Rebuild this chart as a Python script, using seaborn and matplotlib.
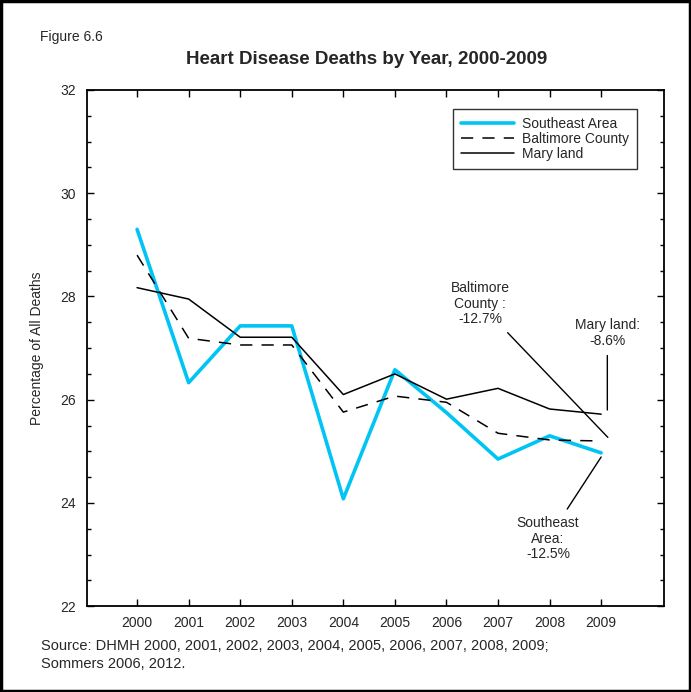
import numpy as np
import pandas as pd
import matplotlib
matplotlib.use("Agg")
import matplotlib.pyplot as plt
import seaborn as sns
from matplotlib.ticker import MultipleLocator
from matplotlib.patches import Rectangle

years = [2000, 2001, 2002, 2003, 2004, 2005, 2006, 2007, 2008, 2009]
southeast = [29.3, 26.33, 27.43, 27.43, 24.08, 26.58, 25.75, 24.85, 25.3, 24.97]
baltimore = [28.8, 27.19, 27.06, 27.06, 25.76, 26.07, 25.95, 25.35, 25.22, 25.2]
maryland = [28.17, 27.95, 27.21, 27.21, 26.1, 26.5, 26.01, 26.22, 25.82, 25.72]

sns.set_style("ticks")
plt.rcParams['font.family'] = ['Liberation Sans', 'DejaVu Sans']

fig = plt.figure(figsize=(6.91, 6.92), dpi=100)
ax = fig.add_axes([0.126, 0.124, 0.835, 0.746])

df = pd.DataFrame({"year": years, "Southeast Area": southeast,
                   "Baltimore County": baltimore, "Maryland": maryland})

sns.lineplot(data=df, x="year", y="Southeast Area", ax=ax, color="#00c5f4",
             linewidth=2.6, label="Southeast Area")
sns.lineplot(data=df, x="year", y="Baltimore County", ax=ax, color="black",
             linewidth=1.1, label="Baltimore County")
ax.lines[-1].set_dashes((8, 6))
sns.lineplot(data=df, x="year", y="Maryland", ax=ax, color="black",
             linewidth=1.1, label="Mary land")

ax.set_xlim(1999.03, 2010.22)
ax.set_ylim(22, 32)
ax.set_xticks(years)
ax.set_xticklabels([str(y) for y in years], fontsize=10)
ax.yaxis.set_major_locator(MultipleLocator(2))
ax.yaxis.set_minor_locator(MultipleLocator(0.5))
ax.tick_params(axis="both", which="both", direction="in", top=True, right=True,
               labelsize=10, width=1, color="black")
ax.tick_params(axis="y", which="major", length=5, pad=8)
ax.tick_params(axis="y", which="minor", length=3)
ax.tick_params(axis="x", which="major", length=5, pad=7)
for s in ax.spines.values():
    s.set_linewidth(1.3)
    s.set_color("black")

ax.set_xlabel("")
ax.set_ylabel("Percentage of All Deaths", fontsize=10, labelpad=12)

leg = ax.legend(loc="upper right", bbox_to_anchor=(0.966, 0.977), fontsize=10,
                frameon=True, fancybox=False, edgecolor="black", handlelength=3.8,
                handletextpad=0.6, borderpad=0.6, labelspacing=0.05)
leg.get_frame().set_linewidth(1.0)

arrow = dict(arrowstyle="-", color="black", lw=1.0, shrinkA=3, shrinkB=0)
ax.annotate("Baltimore\nCounty :\n-12.7%", xy=(2009.13, 25.27), xytext=(2006.65, 27.42),
            fontsize=10, ha="center", va="bottom", linespacing=1.15, arrowprops=arrow)
ax.annotate("Mary land:\n-8.6%", xy=(2009.12, 25.8), xytext=(2009.12, 27.0),
            fontsize=10, ha="center", va="bottom", linespacing=1.15, arrowprops=arrow)
ax.annotate("Southeast\nArea:\n-12.5%", xy=(2009.0, 24.89), xytext=(2007.97, 23.75),
            fontsize=10, ha="center", va="top", linespacing=1.15, arrowprops=arrow)

fig.text(0.53, 0.914, "Heart Disease Deaths by Year, 2000-2009", ha="center",
         va="center", fontsize=13.5, fontweight="bold")
fig.text(0.058, 0.946, "Figure 6.6", ha="left", va="center", fontsize=10)
fig.text(0.06, 0.067, "Source: DHMH 2000, 2001, 2002, 2003, 2004, 2005, 2006, 2007, 2008, 2009;",
         ha="left", va="center", fontsize=10.5)
fig.text(0.06, 0.041, "Sommers 2006, 2012.", ha="left", va="center", fontsize=10.5)

fig.patches.append(Rectangle((0.002, 0.002), 0.996, 0.996, transform=fig.transFigure,
                             fill=False, edgecolor="black", linewidth=2.5))

fig.savefig("out.png", dpi=100)
